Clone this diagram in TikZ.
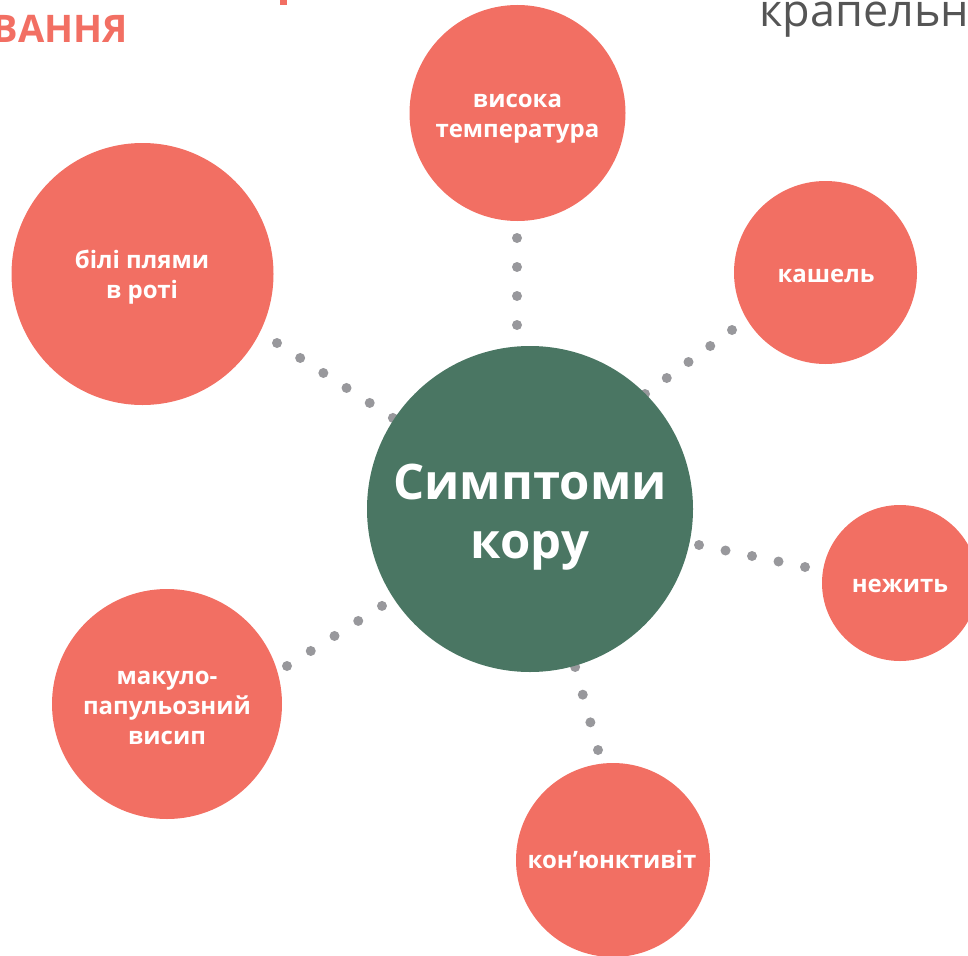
\documentclass[tikz,border=0pt]{standalone}
\usepackage{fontspec}
\setmainfont{Open Sans}
\usetikzlibrary{backgrounds}
\definecolor{coral}{HTML}{F26F63}
\definecolor{sage}{HTML}{4A7663}
\definecolor{dotgrey}{HTML}{98989C}
\definecolor{txtgrey}{HTML}{555555}
\newcommand{\lines}[1]{\begin{tabular}[t]{@{}c@{}}#1\end{tabular}}
\tikzset{
  symptom/.style={circle, fill=coral, draw=none, inner sep=0pt},
  hub/.style={circle, fill=sage, draw=none, inner sep=0pt, minimum size=326pt},
  lbl/.style={anchor=base, inner sep=0pt, text=white,
    font=\fontsize{24}{30}\selectfont\bfseries},
  hublbl/.style={anchor=base, inner sep=0pt, text=white,
    font=\fontsize{49}{59}\selectfont\bfseries},
  dotline/.style={draw=dotgrey, line width=10pt, line cap=round, dash pattern=on 0pt off #1},
}
\begin{document}
\begin{tikzpicture}[x=1pt,y=-1pt]
\useasboundingbox (0,0) rectangle (968,955);
\clip (0,0) rectangle (968,955);

% header fragments
\node[anchor=base east, inner sep=0pt, text=coral, font=\fontsize{38}{40}\selectfont\bfseries] (hdr) at (128,43) {ВАННЯ};
\fill[coral] (280,0) rectangle (287,5);
\node[anchor=base west, inner sep=0pt, text=txtgrey, font=\fontsize{45}{50}\selectfont] (hdr2) at (759,27) {крапельн};

% circles
\node[hub] (hub) at (530,509) {};
\node[symptom, minimum size=216pt] (vis) at (517.5,113) {};
\node[symptom, minimum size=262pt] (bili) at (142.5,274) {};
\node[symptom, minimum size=183pt] (kash) at (825.5,272.5) {};
\node[symptom, minimum size=156pt] (nezh) at (900,583) {};
\node[symptom, minimum size=230pt] (mak) at (167,704) {};
\node[symptom, minimum size=194pt] (kon) at (613,860) {};

% labels (first-line baselines)
\node[hublbl] (hubT) at (530,499) {\lines{Симптоми\\кору}};
\node[lbl] (visT)  at (517.5,107) {\lines{висока\\температура}};
\node[lbl] (biliT) at (142,268) {\lines{білі плями\\в роті}};
\node[lbl] (kashT) at (826,282) {кашель};
\node[lbl] (nezhT) at (900,592) {нежить};
\node[lbl] (makT)  at (167,684) {\lines{макуло-\\папульозний\\висип}};
\node[lbl] (konT)  at (612,868) {кон’юнктивіт};

% connector end points
\coordinate (s1) at (517,238);   \coordinate (e1) at (517,420);
\coordinate (s2) at (277,343);   \coordinate (e2) at (462.6,463);
\coordinate (s3) at (732,330);   \coordinate (e3) at (558,458);
\coordinate (s4) at (805,567);   \coordinate (e4) at (646,534);
\coordinate (s5) at (287,666);   \coordinate (e5) at (453,561);
\coordinate (s6) at (598,750);   \coordinate (e6) at (560,612);

\begin{pgfonlayer}{background}
\draw[dotline=29pt]   (s1) -- (e1);
\draw[dotline=27.6pt] (s2) -- (e2);
\draw[dotline=27pt]   (s3) -- (e3);
\draw[dotline=27.06pt] (s4) -- (e4);
\draw[dotline=28.1pt] (s5) -- (e5);
\draw[dotline=28.7pt] (s6) -- (e6);
\end{pgfonlayer}
\end{tikzpicture}
\end{document}
